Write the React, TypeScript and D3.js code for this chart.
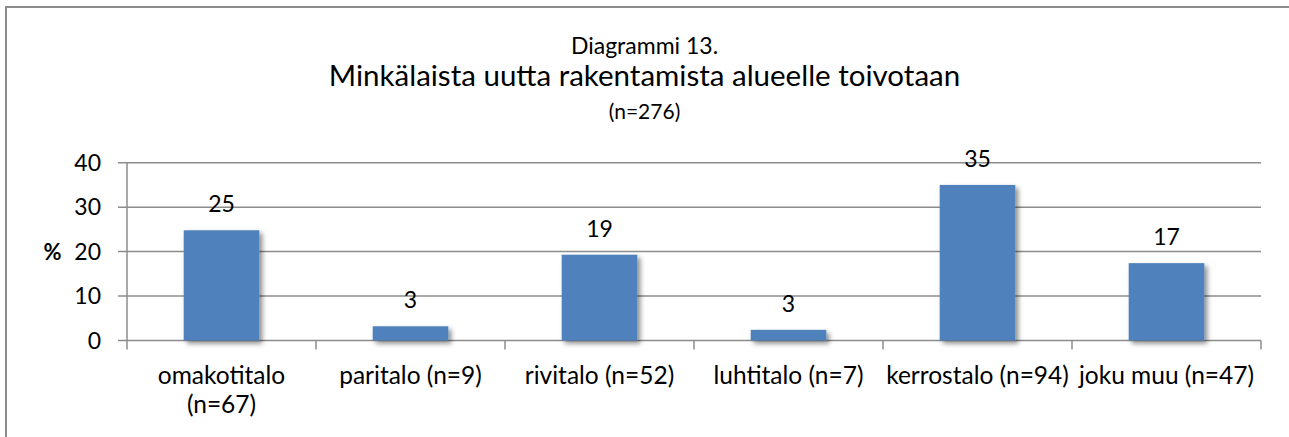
import { useEffect, useRef } from 'react';
import * as d3 from 'd3';

const categories = [
  'omakotitalo (n=67)',
  'paritalo (n=9)',
  'rivitalo (n=52)',
  'luhtitalo (n=7)',
  'kerrostalo (n=94)',
  'joku muu (n=47)',
];
const values = [24.8, 3.2, 19.3, 2.4, 35.0, 17.4];
const valueLabels = ['25', '3', '19', '3', '35', '17'];
const yTicks = [0, 10, 20, 30, 40];

const preTitle = 'Diagrammi 13.';
const title = 'Minkälaista uutta rakentamista alueelle toivotaan';
const subTitle = '(n=276)';
const yLabel = '%';

const W = 1289;
const H = 437;
const FONT = 'Lato, "Open Sans", sans-serif';
const GRID = '#8c8c8c';
const BAR = '#4f81bd';

export default function App() {
  const svgRef = useRef<SVGSVGElement>(null);

  useEffect(() => {
    const svg = d3.select(svgRef.current);
    svg.selectAll('*').remove();

    const left = 127;
    const right = 1261;
    const y0 = 340.5;
    const yTop = 162.7;

    const x = d3.scaleBand<string>()
      .domain(categories)
      .range([left, right])
      .paddingInner(0.6)
      .paddingOuter(0.3);
    const xCat = d3.scaleBand<string>().domain(categories).range([left, right]);
    const y = d3.scaleLinear().domain([0, 40]).range([y0, yTop]);

    const defs = svg.append('defs');
    const f = defs.append('filter').attr('id', 'shadow')
      .attr('x', '-20%').attr('y', '-20%').attr('width', '150%').attr('height', '150%');
    f.append('feDropShadow')
      .attr('dx', 3).attr('dy', 3).attr('stdDeviation', 2.5)
      .attr('flood-color', '#000').attr('flood-opacity', 0.45);

    // chart border (only top and left are visible in the crop)
    svg.append('path')
      .attr('d', `M6,${H} V7 H${W}`)
      .attr('fill', 'none')
      .attr('stroke', GRID)
      .attr('stroke-width', 2);

    // titles
    const t = svg.append('g').attr('font-family', FONT).attr('text-anchor', 'middle').attr('fill', '#000');
    t.append('text').attr('x', W / 2).attr('y', 54).attr('font-size', 23).text(preTitle);
    t.append('text').attr('x', W / 2).attr('y', 86).attr('font-size', 29.5).text(title);
    t.append('text').attr('x', W / 2).attr('y', 119).attr('font-size', 21).text(subTitle);

    // gridlines + y ticks
    svg.append('g')
      .selectAll('line')
      .data(yTicks)
      .join('line')
      .attr('x1', left - 9)
      .attr('x2', right)
      .attr('y1', d => y(d))
      .attr('y2', d => y(d))
      .attr('stroke', GRID)
      .attr('stroke-width', 1.5);

    svg.append('g')
      .selectAll('text')
      .data(yTicks)
      .join('text')
      .attr('x', 101)
      .attr('y', d => y(d) + 8)
      .attr('text-anchor', 'end')
      .attr('font-family', FONT)
      .attr('font-size', 23)
      .text(d => d);

    svg.append('text')
      .attr('x', 52.5)
      .attr('y', y(20) + 8)
      .attr('text-anchor', 'middle')
      .attr('font-family', FONT)
      .attr('font-size', 22)
      .attr('font-weight', 'bold')
      .text(yLabel);

    // y axis line
    svg.append('line')
      .attr('x1', left).attr('x2', left)
      .attr('y1', yTop).attr('y2', y0 + 9)
      .attr('stroke', GRID).attr('stroke-width', 1.5);

    // x tick marks at category boundaries
    const bounds = categories.map(c => (xCat(c) as number) + xCat.bandwidth());
    svg.append('g')
      .selectAll('line')
      .data(bounds)
      .join('line')
      .attr('x1', d => d).attr('x2', d => d)
      .attr('y1', y0).attr('y2', y0 + 9)
      .attr('stroke', GRID).attr('stroke-width', 1.5);

    // bars
    svg.append('g')
      .attr('filter', 'url(#shadow)')
      .selectAll('rect')
      .data(values)
      .join('rect')
      .attr('x', (d, i) => x(categories[i]) as number)
      .attr('width', x.bandwidth())
      .attr('y', d => y(d))
      .attr('height', d => y0 - y(d))
      .attr('fill', BAR);

    // value labels
    svg.append('g')
      .selectAll('text')
      .data(values)
      .join('text')
      .attr('x', (d, i) => (x(categories[i]) as number) + x.bandwidth() / 2)
      .attr('y', d => y(d) - 18)
      .attr('text-anchor', 'middle')
      .attr('font-family', FONT)
      .attr('font-size', 23)
      .text((d, i) => valueLabels[i]);

    // category labels, wrapped if wider than the category slot
    const cat = svg.append('g')
      .attr('font-family', FONT)
      .attr('font-size', 24.5)
      .attr('text-anchor', 'middle');
    categories.forEach(c => {
      const cx = (xCat(c) as number) + xCat.bandwidth() / 2;
      const txt = cat.append('text').attr('x', cx).attr('y', 384).text(c);
      const w = (txt.node() as SVGTextElement).getComputedTextLength();
      if (w > xCat.bandwidth() - 2) {
        const cut = c.lastIndexOf(' (');
        txt.text(null);
        txt.append('tspan').attr('x', cx).attr('y', 384).text(c.slice(0, cut));
        txt.append('tspan').attr('x', cx).attr('y', 413).text(c.slice(cut + 1));
      }
    });
  }, []);

  return (
    <svg
      ref={svgRef}
      width={W}
      height={H}
      style={{ position: 'absolute', left: 0, top: 0, background: '#fff' }}
    />
  );
}
